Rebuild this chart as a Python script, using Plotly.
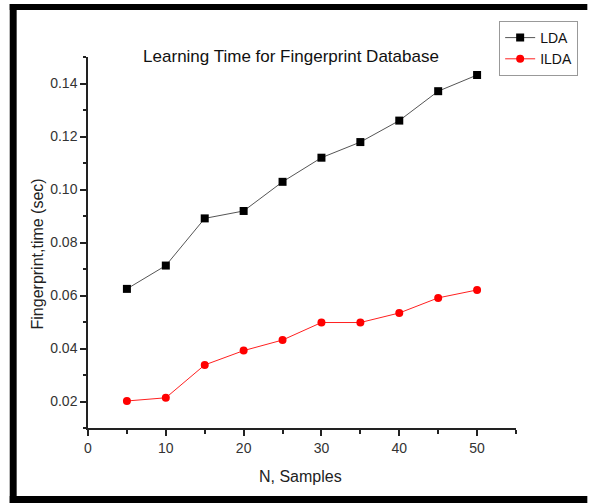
import plotly.graph_objects as go

# ---- data ----
samples = [5, 10, 15, 20, 25, 30, 35, 40, 45, 50]
lda_time = [0.0625, 0.0713, 0.0891, 0.0919, 0.1029, 0.1120, 0.1179, 0.1260, 0.1371, 0.1432]
ilda_time = [0.0202, 0.0214, 0.0338, 0.0392, 0.0432, 0.0498, 0.0498, 0.0534, 0.0591, 0.0621]
series_names = ["LDA", "ILDA"]
chart_title = "Learning Time for Fingerprint Database"
x_title = "N, Samples"
y_title = "Fingerprint,time (sec)"

W, H = 590, 504
L, R, T, B = 88, 520, 57, 428  # plot area in pixels

def px(xp):
    return (xp - L) / (R - L)

def py(yp):
    return (B - yp) / (B - T)

FONT = "Liberation Sans, Arial, sans-serif"

fig = go.Figure()
fig.add_trace(go.Scatter(
    x=samples, y=lda_time, name=series_names[0], mode="lines+markers",
    line=dict(color="#555555", width=1),
    marker=dict(symbol="square", size=8, color="black"),
))
fig.add_trace(go.Scatter(
    x=samples, y=ilda_time, name=series_names[1], mode="lines+markers",
    line=dict(color="#ff2020", width=1),
    marker=dict(symbol="circle", size=8, color="red"),
))

axis_common = dict(
    showline=True, linecolor="#222222", linewidth=1.5, mirror=False,
    showgrid=False, zeroline=False, ticks="outside", ticklen=6, tickwidth=1.5,
    tickcolor="#222222", tickfont=dict(family=FONT, size=14, color="#333333"),
)

fig.update_xaxes(range=[0, 55], tick0=0, dtick=10,
                 minor=dict(dtick=5, ticks="outside", ticklen=4, tickcolor="#222222", tickwidth=1.5),
                 **axis_common)
fig.update_yaxes(range=[0.01, 0.15], tick0=0, dtick=0.02, tickformat=".2f",
                 minor=dict(dtick=0.01, ticks="outside", ticklen=3, tickcolor="#222222", tickwidth=1.5),
                 **axis_common)

shapes = [
    # thick black frame (left, top, bottom)
    dict(type="rect", xref="paper", yref="paper", x0=px(9), x1=px(592), y0=py(503), y1=py(496),
         fillcolor="black", line=dict(width=0)),
    dict(type="rect", xref="paper", yref="paper", x0=px(9), x1=px(16), y0=py(503), y1=py(4),
         fillcolor="black", line=dict(width=0)),
    dict(type="rect", xref="paper", yref="paper", x0=px(9), x1=px(592), y0=py(10), y1=py(4),
         fillcolor="black", line=dict(width=0)),
]

annotations = [
    dict(text=x_title, xref="paper", yref="paper", x=px(302), y=py(476),
         xanchor="center", yanchor="middle", showarrow=False,
         font=dict(family=FONT, size=16, color="#222222")),
    dict(text=y_title, xref="paper", yref="paper", x=px(37), y=py(254),
         xanchor="center", yanchor="middle", showarrow=False, textangle=-90,
         font=dict(family=FONT, size=16, color="#222222")),
]

fig.update_layout(
    width=W, height=H,
    margin=dict(l=L, r=W - R, t=T, b=H - B),
    paper_bgcolor="white", plot_bgcolor="white",
    title=dict(text=chart_title, xref="container", yref="container",
               x=291 / W, y=1 - 56 / H,
               xanchor="center", yanchor="middle",
               font=dict(family=FONT, size=17, color="#111111")),
    legend=dict(x=px(503), y=py(21), xanchor="left", yanchor="top",
                bordercolor="#999999", borderwidth=1, bgcolor="white",
                font=dict(family=FONT, size=14, color="#111111"),
                tracegroupgap=0, itemwidth=30),
    shapes=shapes,
    annotations=annotations,
    showlegend=True,
)

fig.write_html("out.html", config={"displayModeBar": False},
               post_script="document.body.style.margin='0';")
